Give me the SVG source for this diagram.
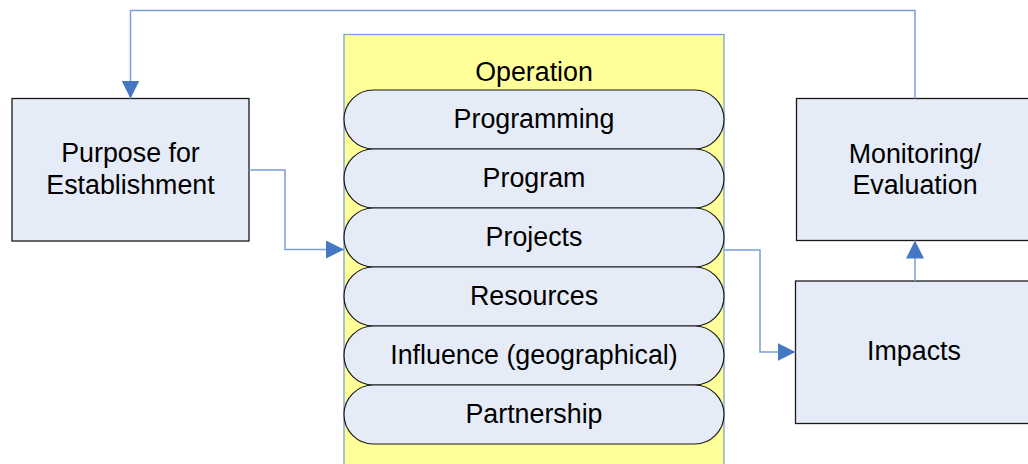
<svg xmlns="http://www.w3.org/2000/svg" width="1028" height="464" viewBox="0 0 1028 464">
  <style>
    .box { fill: #e6ecf7; stroke: #1a1a1a; stroke-width: 1.3; }
    .pill { fill: #e6ecf7; stroke: #1a1a1a; stroke-width: 1.2; }
    .container { fill: #ffff99; stroke: #7aa0d8; stroke-width: 1.3; }
    .label { font-family: "Liberation Sans", Arial, sans-serif; font-size: 26.8px; fill: #000; text-anchor: middle; }
    .conn { fill: none; stroke: #7a9fd6; stroke-width: 1.5; }
  </style>
  <defs>
    <marker id="arrow" viewBox="0 0 18 18" refX="18" refY="9" markerWidth="18" markerHeight="18" markerUnits="userSpaceOnUse" orient="auto">
      <path d="M0,0 L18,9 L0,18 Z" fill="#4677c2"/>
    </marker>
  </defs>
  <rect x="0" y="0" width="1028" height="464" fill="#ffffff"/>

  <g id="purpose">
    <rect class="box" x="12" y="98.5" width="237" height="142.5"/>
    <text class="label" x="130.5" y="162">Purpose for</text>
    <text class="label" x="130.5" y="194">Establishment</text>
  </g>

  <g id="operation">
    <rect class="container" x="344" y="34.5" width="380" height="440"/>
    <text class="label" x="534" y="81">Operation</text>
  </g>

  <g id="programming">
    <rect class="pill" x="344" y="90" width="380" height="59" rx="29.5" ry="29.5"/>
    <text class="label" x="534" y="127.5">Programming</text>
  </g>
  <g id="program">
    <rect class="pill" x="344" y="149" width="380" height="59" rx="29.5" ry="29.5"/>
    <text class="label" x="534" y="186.5">Program</text>
  </g>
  <g id="projects">
    <rect class="pill" x="344" y="208" width="380" height="59" rx="29.5" ry="29.5"/>
    <text class="label" x="534" y="245.5">Projects</text>
  </g>
  <g id="resources">
    <rect class="pill" x="344" y="267" width="380" height="59" rx="29.5" ry="29.5"/>
    <text class="label" x="534" y="304.5">Resources</text>
  </g>
  <g id="influence">
    <rect class="pill" x="344" y="326" width="380" height="59" rx="29.5" ry="29.5"/>
    <text class="label" x="534" y="363.5">Influence (geographical)</text>
  </g>
  <g id="partnership">
    <rect class="pill" x="344" y="385" width="380" height="59" rx="29.5" ry="29.5"/>
    <text class="label" x="534" y="422.5">Partnership</text>
  </g>

  <g id="monitoring">
    <rect class="box" x="796.5" y="98.5" width="240" height="142"/>
    <text class="label" x="915" y="163">Monitoring/</text>
    <text class="label" x="915" y="193.5">Evaluation</text>
  </g>

  <g id="impacts">
    <rect class="box" x="795.5" y="281" width="240" height="142.5"/>
    <text class="label" x="914" y="360">Impacts</text>
  </g>

  <g id="connectors">
    <!-- feedback loop: evaluation back to purpose -->
    <path class="conn" d="M915,98.5 V10.5 H130.5 V98.5" marker-end="url(#arrow)"/>
    <!-- purpose into operation -->
    <path class="conn" d="M249,170 H285 V249.5 H344" marker-end="url(#arrow)"/>
    <!-- projects to impacts -->
    <path class="conn" d="M724,250 H760 V352 H795.5" marker-end="url(#arrow)"/>
    <!-- impacts up to monitoring -->
    <path class="conn" d="M915,281 V240.5" marker-end="url(#arrow)"/>
  </g>
</svg>
